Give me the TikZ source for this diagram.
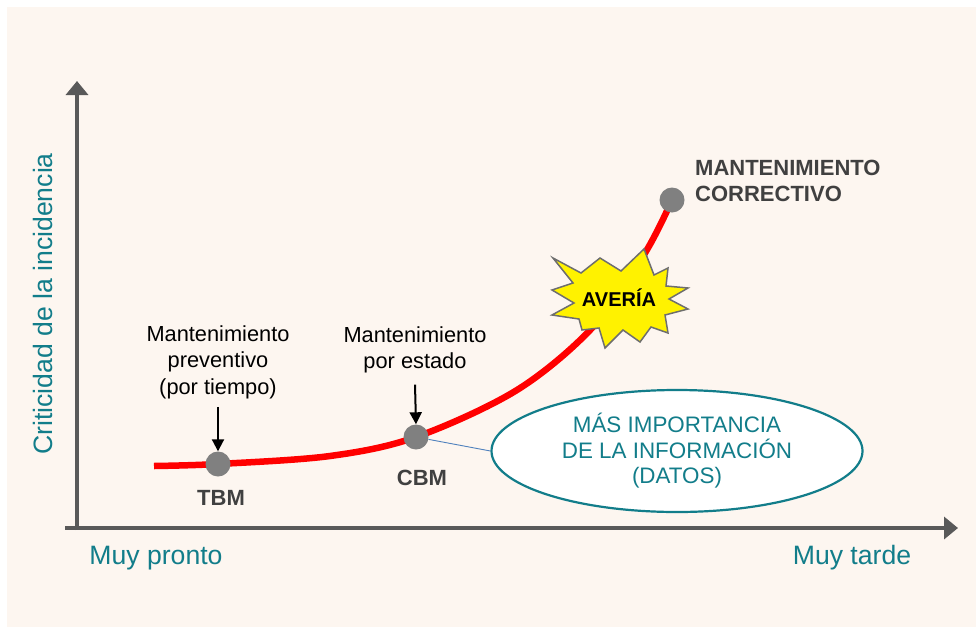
\documentclass[tikz,border=0pt]{standalone}
\usepackage{fontspec}
\setmainfont{Liberation Sans}
\usetikzlibrary{arrows.meta,shapes.geometric}

\definecolor{bgbeige}{RGB}{253,246,240}
\definecolor{axisgray}{RGB}{89,89,89}
\definecolor{dotgray}{RGB}{128,128,128}
\definecolor{labelgray}{RGB}{64,64,64}
\definecolor{tealtext}{RGB}{18,125,138}
\definecolor{linkblue}{RGB}{79,129,189}
\definecolor{burstline}{RGB}{110,110,110}

\begin{document}
\begin{tikzpicture}[x=1pt, y=-1pt,
  axis/.style={axisgray, line width=4pt, -{Triangle[width=22pt,length=14pt]}},
  dot/.style={circle, fill=dotgray, minimum size=25pt, inner sep=0pt},
  plain/.style={align=center, inner sep=0pt, font=\fontsize{21.8}{26.5}\selectfont},
  tag/.style={align=left, inner sep=0pt, text=labelgray, font=\bfseries\fontsize{22}{26}\selectfont},
  pointer/.style={line width=2pt, -{Triangle[width=12pt,length=12pt]}},
  axislabel/.style={text=tealtext, inner sep=0pt, font=\fontsize{26.6}{30}\selectfont}]

  % Page and background
  \useasboundingbox (0,0) rectangle (976,626);
  \fill[white] (0,0) rectangle (976,626);
  \fill[bgbeige] (7,7) rectangle (990,640);

  % Axes
  \coordinate (origin) at (77,530);
  \coordinate (xstart) at (65,528);
  \coordinate (xend) at (958,528);
  \coordinate (yend) at (77,81);
  \draw[axis] (xstart) -- (xend);
  \draw[axis] (origin) -- (yend);

  \node[axislabel, rotate=90] (ylabel) at (43,304) {Criticidad de la incidencia};
  \node[axislabel] (early) at (156,558) {Muy pronto};
  \node[axislabel] (late) at (852,558) {Muy tarde};

  % Criticality curve
  \coordinate (tbmpos) at (218,464);
  \coordinate (cbmpos) at (416,437);
  \coordinate (cmpos) at (672,200);
  \draw[red, line width=6.5pt, line cap=butt]
    plot[smooth, tension=0.55] coordinates {(154,466) (tbmpos) (330,456) (cbmpos) (517,390) (593,327) (645,253) (cmpos)};

  % Information ellipse
  \node[ellipse, draw=tealtext, line width=2.2pt, fill=white, minimum width=371pt,
    minimum height=122pt, inner sep=0pt, align=center, text=tealtext,
    font=\fontsize{22.4}{25.5}\selectfont] (info) at (677,451)
    {MÁS IMPORTANCIA\\DE LA INFORMACIÓN\\(DATOS)};

  % Failure burst
  \begin{scope}[shift={(621,301)}]
    \draw[burstline, fill=yellow, line width=1.5pt, line join=miter]
      (-68,-43) -- (-40,-28) -- (-21,-43) -- (0,-30) -- (23,-52) -- (33,-26)
      -- (47,-33) -- (45,-15) -- (67,-13) -- (48,-2) -- (67,8) -- (44,14)
      -- (47,32) -- (30,26) -- (19,41) -- (2,29) -- (-16,47) -- (-22,27)
      -- (-39,29) -- (-42,18) -- (-69,14) -- (-47,2) -- (-69,-11) -- (-48,-18) -- cycle;
  \end{scope}
  \node[inner sep=0pt, font=\bfseries\fontsize{20}{24}\selectfont] (averia) at (619,298) {AVERÍA};

  % Maintenance points
  \node[dot] (tbm) at (tbmpos) {};
  \node[dot] (cbm) at (cbmpos) {};
  \node[dot] (cm) at (cmpos) {};
  \draw[linkblue, line width=0.9pt] (cbm) -- (info.west);

  \node[tag] (tbmtag) at (221,498) {TBM};
  \node[tag] (cbmtag) at (422,478) {CBM};
  \node[tag, anchor=west] (cmtag) at (695,181) {MANTENIMIENTO\\CORRECTIVO};

  \node[plain] (tbmtxt) at (218,362) {Mantenimiento\\preventivo\\(por tiempo)};
  \node[plain] (cbmtxt) at (415,350) {Mantenimiento\\por estado};
  \draw[pointer] ([yshift=-8pt]tbmtxt.south) -- (tbm.north);
  \draw[pointer] ([yshift=-11pt]cbmtxt.south) -- (cbm.north);
\end{tikzpicture}
\end{document}
